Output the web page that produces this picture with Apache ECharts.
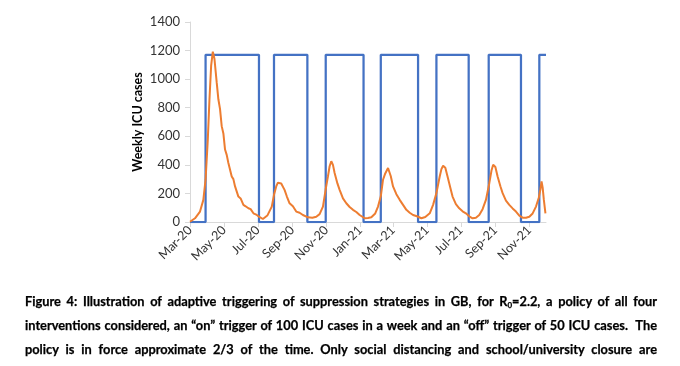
<!DOCTYPE html>
<html>
<head>
<meta charset="utf-8">
<script src="https://cdn.jsdelivr.net/npm/echarts@6/dist/echarts.min.js"></script>
<style>
  html, body { margin: 0; padding: 0; background: #fff; }
  #wrap { position: relative; width: 680px; height: 366px; overflow: hidden; }
  #chart { position: absolute; left: 0; top: 0; width: 680px; height: 366px; }
  .cap { position: absolute; left: 25px; width: 632px; font-family: Lato, "Open Sans", sans-serif; font-weight: bold;
         font-size: 12.8px; color: #000; text-align: justify; text-align-last: justify; white-space: nowrap; line-height: 16px;
         -webkit-text-stroke: 0.25px #000; }
  .cap sub { font-size: 8px; vertical-align: -2px; line-height: 0; }
</style>
</head>
<body>
<div id="wrap">
  <div id="chart"></div>
  <div class="cap" style="top:293px">Figure 4: Illustration of adaptive triggering of suppression strategies in GB, for R<sub>0</sub>=2.2, a policy of all four</div>
  <div class="cap" style="top:317px">interventions considered, an “on” trigger of 100 ICU cases in a week and an “off” trigger of 50 ICU cases.&nbsp; The</div>
  <div class="cap" style="top:341px">policy is in force approximate 2/3 of the time. Only social distancing and school/university closure are</div>
</div>
<script>
// Day offsets from 1 March 2020
const tickDays = [0, 61, 122, 184, 245, 306, 365, 426, 487, 549, 610];
const tickLabels = ['Mar-20', 'May-20', 'Jul-20', 'Sep-20', 'Nov-20', 'Jan-21', 'Mar-21', 'May-21', 'Jul-21', 'Sep-21', 'Nov-21'];
const yTicks = [0, 200, 400, 600, 800, 1000, 1200, 1400];

// Weekly ICU cases (orange)
const icuDays = [0, 9, 18, 24, 28, 32, 35, 38, 41, 44, 48, 51, 54, 57, 60, 63, 66, 69, 72, 75, 78, 81, 84, 87, 91, 96, 100, 105, 109, 114, 119, 124, 131, 139, 147, 151, 155, 158, 161, 164, 166, 170, 174, 179, 185, 191, 197, 203, 212, 220, 227, 233, 239, 244, 248, 251, 254, 257, 260, 265, 269, 275, 281, 287, 293, 299, 305, 314, 320, 326, 333, 338, 343, 347, 351, 356, 359, 361, 365, 371, 377, 383, 389, 395, 401, 408, 416, 423, 431, 437, 443, 449, 452, 455, 459, 463, 468, 472, 478, 484, 490, 496, 502, 508, 514, 520, 526, 532, 538, 542, 545, 549, 553, 558, 562, 568, 574, 580, 586, 592, 598, 604, 610, 616, 622, 627, 630, 632, 634, 636, 639];
const icuCases = [2, 26, 73, 155, 296, 577, 859, 1094, 1192, 1141, 977, 859, 790, 671, 620, 507, 470, 413, 400, 319, 300, 249, 240, 178, 165, 120, 110, 96, 90, 61, 52, 37, 21, 45, 108, 190, 249, 275, 284, 270, 262, 225, 180, 131, 110, 73, 65, 49, 33, 30, 37, 55, 108, 230, 319, 390, 425, 400, 343, 270, 225, 165, 131, 105, 85, 70, 49, 26, 28, 33, 60, 108, 180, 296, 340, 378, 365, 320, 249, 195, 155, 120, 85, 65, 49, 40, 26, 35, 61, 120, 202, 320, 370, 394, 380, 319, 240, 178, 125, 96, 75, 61, 40, 26, 30, 49, 90, 155, 270, 360, 401, 385, 319, 250, 202, 150, 120, 95, 73, 45, 30, 30, 37, 60, 108, 170, 230, 284, 240, 160, 61];

// Suppression policy (blue): days switched on / off, level drawn on chart
const policyOnDays = [28, 151, 244, 343, 443, 537, 628];
const policyOffDays = [124, 211, 312, 410, 501, 595];
const policyLevel = 1170;
const endDay = 640;

const icuData = icuDays.map((d, i) => [d, icuCases[i]]);
const policyData = [[0, 0]];
policyOnDays.forEach((on, i) => {
  policyData.push([on, 0], [on, policyLevel]);
  if (i < policyOffDays.length) {
    policyData.push([policyOffDays[i], policyLevel], [policyOffDays[i], 0]);
  } else {
    policyData.push([endDay, policyLevel]);
  }
});

const chart = echarts.init(document.getElementById('chart'));
const font = 'Lato, "Open Sans", sans-serif';
chart.setOption({
  animation: false,
  backgroundColor: '#fff',
  grid: { left: 190, right: 134, top: 22, bottom: 144, containLabel: false },
  xAxis: {
    type: 'value', min: 0, max: endDay,
    axisLine: { show: true, lineStyle: { color: '#d9d9d9', width: 1 } },
    axisTick: { show: true, customValues: tickDays, length: 5, lineStyle: { color: '#d9d9d9' } },
    axisLabel: {
      customValues: tickDays, rotate: 45, fontSize: 12.5, fontFamily: font, color: '#333', margin: 6,
      formatter: v => tickLabels[tickDays.indexOf(Math.round(v))] || ''
    },
    splitLine: { show: false }
  },
  yAxis: {
    type: 'value', min: 0, max: 1400, interval: 200,
    name: 'Weekly ICU cases', nameLocation: 'middle', nameRotate: 90, nameGap: 46, nameMoveOverlap: false,
    nameTextStyle: { fontSize: 12.5, fontWeight: 'bold', fontFamily: font, color: '#000' },
    axisLine: { show: true, lineStyle: { color: '#d9d9d9', width: 1 } },
    axisTick: { show: true, length: 5, lineStyle: { color: '#d9d9d9' } },
    axisLabel: { fontSize: 13, fontFamily: font, color: '#333', margin: 10,
      customValues: yTicks, formatter: v => String(v) },
    splitLine: { show: false }
  },
  series: [
    { type: 'line', data: policyData, showSymbol: false, lineStyle: { color: '#4472C4', width: 2.25 }, z: 2 },
    { type: 'line', data: icuData, showSymbol: false, lineStyle: { color: '#ED7D31', width: 2 }, z: 3 }
  ]
});
</script>
</body>
</html>
